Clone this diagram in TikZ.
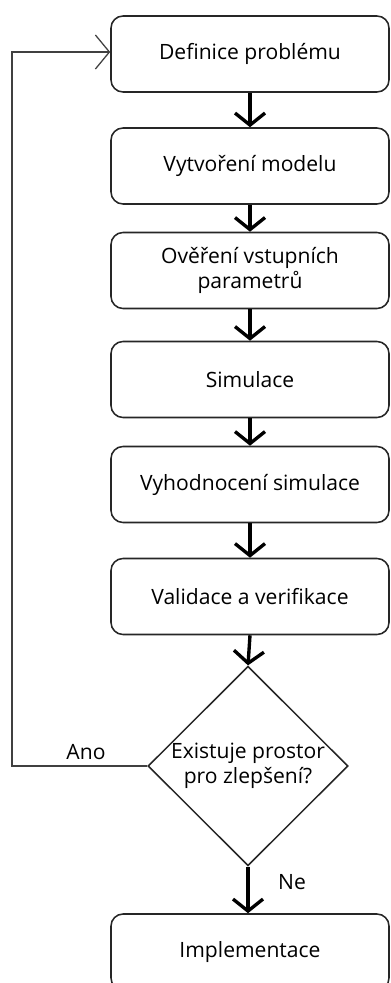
\documentclass[tikz,border=0pt]{standalone}
\usepackage{fontspec}
\setmainfont{Open Sans}
\usetikzlibrary{shapes.geometric,arrows.meta}

\begin{document}
\begin{tikzpicture}[
  font=\fontsize{15}{18}\selectfont,
  krok/.style={draw=black!85, line width=1.1pt, rounded corners=0.3cm,
    minimum width=6.95cm, minimum height=1.9cm, align=center, inner sep=2pt},
  otazka/.style={draw=black!85, line width=1.1pt, diamond, aspect=1,
    minimum width=5cm, minimum height=4.9cm, align=center, inner sep=0pt},
  sipka/.style={line width=2.4pt, -{Straight Barb[length=0.3cm,width=0.75cm]}},
  zpet/.style={draw=black!75, line width=0.9pt, -{Straight Barb[length=0.35cm,width=0.85cm,line width=0.9pt]}}
  ]
  \useasboundingbox (0,0) rectangle (9.75,-24.575);

  \node[krok] (def) at (6.25,-1.35) {Definice problému};
  \node[krok] (model) at (6.25,-4.15) {Vytvoření modelu};
  \node[krok] (vstup) at (6.25,-6.7625) {Ověření vstupních\\parametrů};
  \node[krok] (sim) at (6.25,-9.4875) {Simulace};
  \node[krok] (vyhod) at (6.25,-12.1125) {Vyhodnocení simulace};
  \node[krok] (valid) at (6.25,-14.9125) {Validace a verifikace};
  \node[otazka] (zlep) at (6.2,-19.15) {Existuje prostor\\pro zlepšení?};
  \node[krok] (impl) at (6.25,-23.8) {Implementace};

  \coordinate (rohA) at (0.3,-19.15);
  \coordinate (rohB) at (0.3,-1.3);

  \draw[sipka] (def) -- (model);
  \draw[sipka] (model) -- (vstup);
  \draw[sipka] (vstup) -- (sim);
  \draw[sipka] (sim) -- (vyhod);
  \draw[sipka] (vyhod) -- (valid);
  \draw[sipka] (valid.south) -- (zlep.north);
  \draw[sipka] (zlep.south) -- (impl.north -| zlep.south);
  \draw[zpet] (zlep.west) -- (rohA) -- (rohB) -- (rohB -| def.west);

  \node (ano) at (2.15,-18.8) {Ano};
  \node (ne) at (7.3,-22.05) {Ne};
\end{tikzpicture}
\end{document}
